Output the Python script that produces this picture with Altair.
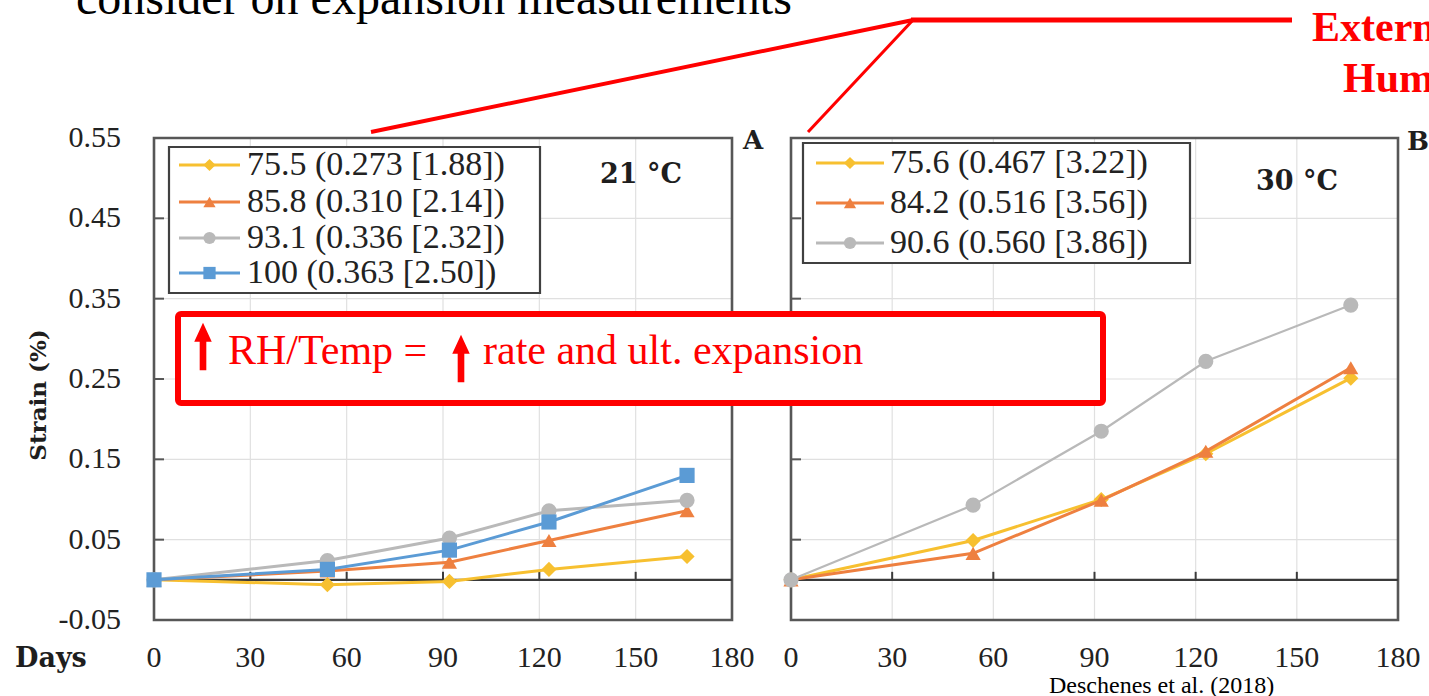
import altair as alt
import pandas as pd

# ---------------- data ----------------
days = [0, 54, 92, 123, 166]

# 21 °C: RH (ultimate expansion [ratio])
a_labels = ["75.5 (0.273 [1.88])", "85.8 (0.310 [2.14])",
            "93.1 (0.336 [2.32])", "100 (0.363 [2.50])"]
a_rh755 = [0.0, -0.006, -0.002, 0.013, 0.029]
a_rh858 = [0.0, 0.011, 0.022, 0.049, 0.086]
a_rh931 = [0.0, 0.024, 0.052, 0.086, 0.099]
a_rh100 = [0.0, 0.013, 0.037, 0.072, 0.130]

# 30 °C
b_labels = ["75.6 (0.467 [3.22])", "84.2 (0.516 [3.56])", "90.6 (0.560 [3.86])"]
b_rh756 = [0.0, 0.049, 0.100, 0.157, 0.251]
b_rh842 = [0.0, 0.033, 0.099, 0.160, 0.264]
b_rh906 = [0.0, 0.093, 0.185, 0.272, 0.342]

series_colors = ["#F7C030", "#EE8040", "#B9B9B9", "#5B9BD5"]
series_shapes = ["diamond", "triangle-up", "circle", "square"]

day_domain = [0, 180]
strain_domain = [-0.05, 0.55]
x_ticks = [0, 30, 60, 90, 120, 150, 180]
x_tick_labels = ["0", "30", "60", "90", "120", "150", "180"]
y_ticks = [-0.05, 0.05, 0.15, 0.25, 0.35, 0.45, 0.55]
y_tick_labels = ["-0.05", "0.05", "0.15", "0.25", "0.35", "0.45", "0.55"]
grid_days = [30, 60, 90, 120, 150]
grid_strain = [0.05, 0.15, 0.25, 0.35, 0.45]

# ---------------- styling ----------------
FRAME = "#575757"
GRID = "#E0E0E0"
INK = "#222222"
SERIF = "Liberation Serif"
BOLD_SERIF = "DejaVu Serif"
RED = "#FF0000"

one = pd.DataFrame({"k": [0]})


def panel(x_range, series, title, title_pos, letter_pos, letter, box, row_ys,
          line_x, text_x, label_size, show_y_labels):
    xs = alt.Scale(domain=day_domain, range=x_range, nice=False, zero=False)
    ys = alt.Scale(domain=strain_domain, range=[620, 138], nice=False, zero=False)

    def X(f):
        return alt.X(f"{f}:Q", scale=xs, axis=None)

    def Y(f):
        return alt.Y(f"{f}:Q", scale=ys, axis=None)

    layers = []
    # gridlines
    layers.append(
        alt.Chart(pd.DataFrame({"day": grid_days, "lo": strain_domain[0], "hi": strain_domain[1]}))
        .mark_rule(color=GRID, strokeWidth=1.2)
        .encode(x=X("day"), y=Y("lo"), y2="hi")
    )
    layers.append(
        alt.Chart(pd.DataFrame({"strain": grid_strain, "x0": day_domain[0], "x1": day_domain[1]}))
        .mark_rule(color=GRID, strokeWidth=1.2)
        .encode(x=X("x0"), x2="x1", y=Y("strain"))
    )
    # plot frame
    layers.append(
        alt.Chart(pd.DataFrame({"x0": [day_domain[0]], "x1": [day_domain[1]],
                                "y0": [strain_domain[0]], "y1": [strain_domain[1]]}))
        .mark_rect(fill="transparent", stroke=FRAME, strokeWidth=2.6)
        .encode(x=X("x0"), x2="x1", y=Y("y0"), y2="y1")
    )
    # zero line with its ticks
    layers.append(
        alt.Chart(pd.DataFrame({"x0": [day_domain[0]], "x1": [day_domain[1]], "strain": [0.0]}))
        .mark_rule(color="#3A3A3A", strokeWidth=2.2)
        .encode(x=X("x0"), x2="x1", y=Y("strain"))
    )
    layers.append(
        alt.Chart(pd.DataFrame({"day": grid_days, "strain": 0.0}))
        .mark_tick(orient="vertical", size=8, thickness=2, yOffset=-4, color="#3A3A3A", opacity=1)
        .encode(x=X("day"), y=Y("strain"))
    )
    layers.append(
        alt.Chart(pd.DataFrame({"day": 0, "strain": grid_strain}))
        .mark_tick(orient="horizontal", size=10, thickness=2, xOffset=5, color=FRAME, opacity=1)
        .encode(x=X("day"), y=Y("strain"))
    )
    # tick labels
    layers.append(
        alt.Chart(pd.DataFrame({"day": x_ticks, "label": x_tick_labels}))
        .mark_text(font=SERIF, fontSize=30, color=INK, align="center", baseline="alphabetic")
        .encode(x=X("day"), y=alt.value(667), text="label:N")
    )
    if show_y_labels:
        layers.append(
            alt.Chart(pd.DataFrame({"strain": y_ticks, "label": y_tick_labels}))
            .mark_text(font=SERIF, fontSize=30, color=INK, align="right", baseline="middle")
            .encode(x=alt.value(121), y=Y("strain"), text="label:N")
        )
    # data series
    for label, vals, color, shape, width in series:
        df = pd.DataFrame({"day": days, "strain": vals})
        layers.append(
            alt.Chart(df).mark_line(color=color, strokeWidth=width)
            .encode(x=X("day"), y=Y("strain"))
        )
        layers.append(
            alt.Chart(df).mark_point(shape=shape, filled=True, color=color, size=230, opacity=1)
            .encode(x=X("day"), y=Y("strain"))
        )
    # legend
    bx0, bx1, by0, by1 = box
    layers.append(
        alt.Chart(one).mark_rect(fill="white", stroke="#404040", strokeWidth=2.2)
        .encode(x=alt.value(bx0), x2=alt.value(bx1), y=alt.value(by0), y2=alt.value(by1))
    )
    for (label, vals, color, shape, width), ry in zip(series, row_ys):
        layers.append(
            alt.Chart(one).mark_rule(color=color, strokeWidth=3)
            .encode(x=alt.value(line_x[0]), x2=alt.value(line_x[1]), y=alt.value(ry))
        )
        layers.append(
            alt.Chart(one).mark_point(shape=shape, filled=True, color=color, size=150, opacity=1)
            .encode(x=alt.value((line_x[0] + line_x[1]) / 2), y=alt.value(ry))
        )
        layers.append(
            alt.Chart(pd.DataFrame({"label": [label]}))
            .mark_text(font=SERIF, fontSize=label_size, color=INK, align="left", baseline="middle")
            .encode(x=alt.value(text_x), y=alt.value(ry), text="label:N")
        )
    # temperature and panel letter
    layers.append(
        alt.Chart(one).mark_text(text=title, font=BOLD_SERIF, fontSize=27, fontWeight="bold",
                                 color="#1E1E1E", align="center", baseline="middle")
        .encode(x=alt.value(title_pos[0]), y=alt.value(title_pos[1]))
    )
    layers.append(
        alt.Chart(one).mark_text(text=letter, font=BOLD_SERIF, fontSize=26, fontWeight="bold",
                                 color="#1E1E1E", align="center", baseline="middle")
        .encode(x=alt.value(letter_pos[0]), y=alt.value(letter_pos[1]))
    )
    return alt.layer(*layers)


series_a = [
    (a_labels[0], a_rh755, series_colors[0], series_shapes[0], 3),
    (a_labels[1], a_rh858, series_colors[1], series_shapes[1], 3),
    (a_labels[2], a_rh931, series_colors[2], series_shapes[2], 3),
    (a_labels[3], a_rh100, series_colors[3], series_shapes[3], 3),
]
series_b = [
    (b_labels[0], b_rh756, series_colors[0], series_shapes[0], 3),
    (b_labels[1], b_rh842, series_colors[1], series_shapes[1], 3),
    (b_labels[2], b_rh906, series_colors[2], series_shapes[2], 2.2),
]

panel_a = panel([154, 732], series_a, "21 °C", (641, 175), (753, 141), "A",
                (169, 540, 147, 293), [165, 202, 238, 273], (179, 240), 247, 34, True)
panel_b = panel([791, 1398], series_b, "30 °C", (1297, 182), (1418, 142), "B",
                (803, 1190, 143, 263), [163, 203, 243], (816, 884), 890, 34, False)

# ---------------- slide annotations ----------------
def txt(s, x, y, size, color="black", weight="normal", font=SERIF, align="left",
        baseline="alphabetic", angle=0):
    return alt.Chart(one).mark_text(text=s, font=font, fontSize=size, fontWeight=weight,
                                    color=color, align=align, baseline=baseline, angle=angle
                                    ).encode(x=alt.value(x), y=alt.value(y))


def seg(x0, y0, x1, y1, width, color=RED):
    return alt.Chart(one).mark_rule(color=color, strokeWidth=width).encode(
        x=alt.value(x0), y=alt.value(y0), x2=alt.value(x1), y2=alt.value(y1))


arrow_path = "M-0.14,1L0.14,1L0.14,-0.2L0.37,-0.2L0,-1L-0.37,-0.2L-0.14,-0.2Z"


def arrow(x, y):
    return alt.Chart(one).mark_point(shape=arrow_path, filled=True, color=RED, size=2240,
                                     opacity=1).encode(x=alt.value(x), y=alt.value(y))


overlays = [
    txt("Days", 15, 667, 27, color="#1E1E1E", weight="bold", font=BOLD_SERIF),
    txt("Strain (%)", 39, 395, 23, color="#1E1E1E", weight="bold", font=BOLD_SERIF,
        align="center", baseline="middle", angle=270),
    txt("consider on expansion measurements", 76, 14, 48),
    seg(371, 132, 913, 20, 4),
    seg(913, 20, 808, 132, 3),
    seg(911, 20, 1292, 20, 5),
    txt("External", 1312, 41, 42, color=RED, weight="bold"),
    txt("Humidity", 1343, 92, 42, color=RED, weight="bold"),
    alt.Chart(one).mark_rect(fill="white", stroke=RED, strokeWidth=6, cornerRadius=3).encode(
        x=alt.value(178), x2=alt.value(1103), y=alt.value(314), y2=alt.value(403)),
    arrow(203, 346.5),
    txt("RH/Temp =", 228, 364, 42, color=RED),
    arrow(461, 358.5),
    txt("rate and ult. expansion", 483, 364, 42, color=RED),
    txt("Deschenes et al. (2018)", 1049, 693, 24),
]

chart = (
    alt.layer(panel_a, panel_b, *overlays)
    .resolve_scale(x="independent", y="independent")
    .properties(width=1429, height=696, autosize=alt.AutoSizeParams(type="none"),
                padding=0, background="white")
    .configure_view(stroke=None)
)

chart.save("out.html", embed_options={"renderer": "svg", "actions": False})
